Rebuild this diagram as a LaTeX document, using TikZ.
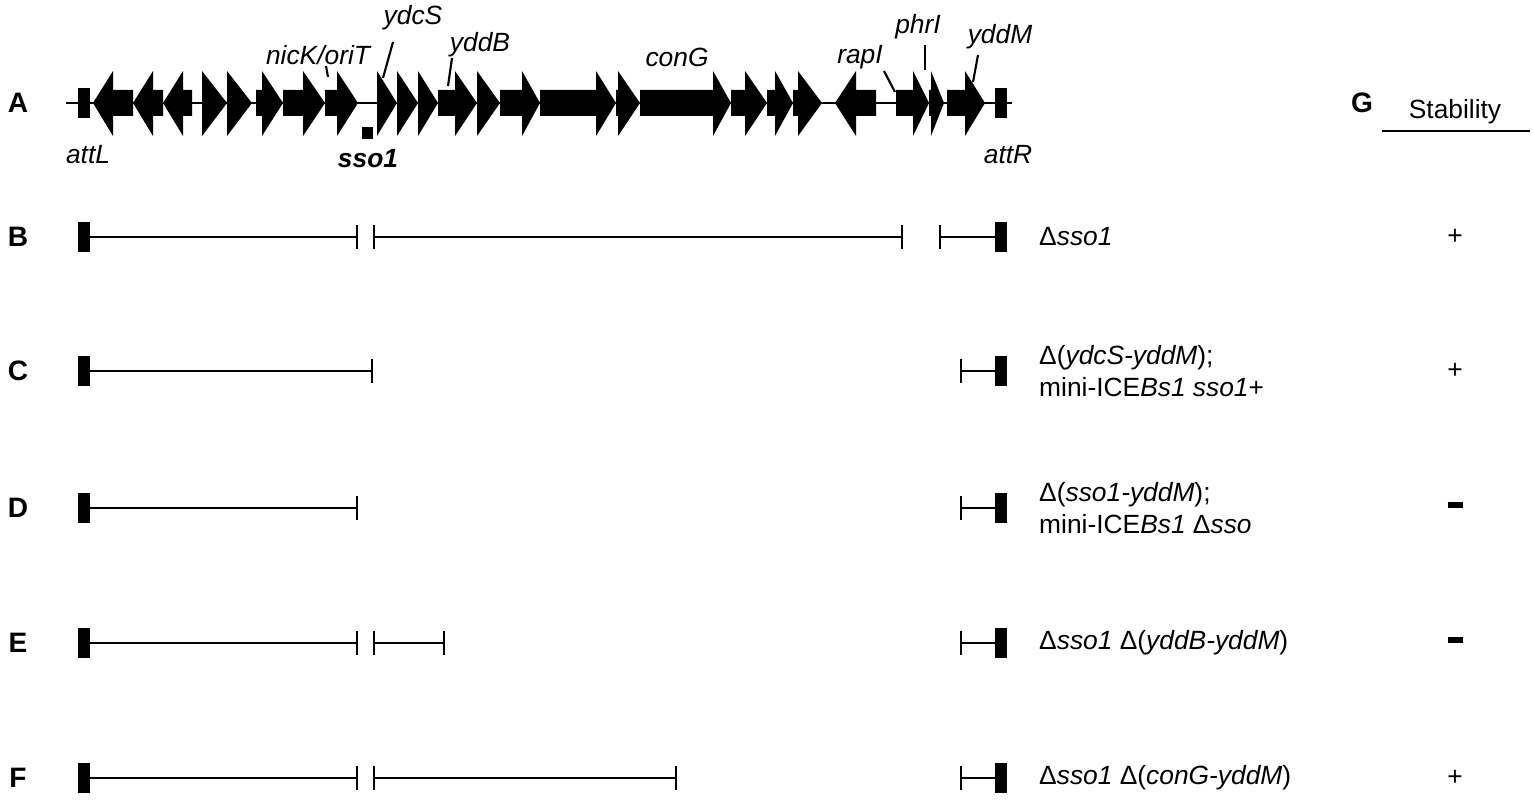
\documentclass[tikz,border=0pt]{standalone}
\usepackage{fontspec}
\setmainfont{Liberation Sans}
\usepackage{tikz}
\usetikzlibrary{arrows.meta,positioning}

\begin{document}
\begin{tikzpicture}[
    x=0.02cm, y=-0.02cm,
    % 字型
    every node/.style={font=\fontsize{15}{18}\selectfont},
    % 行標籤樣式
    lbl/.style={font=\fontsize{16}{18}\selectfont\bfseries},
    % 基因名稱樣式
    gname/.style={font=\fontsize{15}{18}\selectfont\itshape},
    % 刻線
    tick/.style={line width=1.2pt},
    % 區段樣式
    seg/.style={line width=0.9pt, {Bar[width=0.48cm]}-{Bar[width=0.48cm]}},
    % att 方塊
    att/.style={fill=black, draw=none}
]
\useasboundingbox (0,0) rectangle (1533,800);

% --- 基因圖 A ---
\draw[line width=1.2pt] (66,103) -- (1012,103);
\foreach \a/\b/\c in {133/113/93,163/153/133,192/183/163,202/202/227,227/227/252,
    256/262/283,283/303/325,325/337/358,377/377/397,397/397/418,418/418/438,
    438/455/477,477/477/500,500/522/540,540/596/616,616/618/640,640/713/731,
    731/745/767,767/775/793,793/798/822,876/856/835,896/913/929,929/931/944,947/965/985}
    \fill (\a,90) -- (\b,90) -- (\b,71) -- (\c,103) -- (\b,136) -- (\b,116) -- (\a,116) -- cycle;
\fill[att] (78,88) rectangle (90,118);
\fill[att] (995,88) rectangle (1007,118);
\fill (362,127) rectangle (373,139);

\node[lbl] (lA) at (18,103) {A};
\node[gname] (attL) at (88,155) {attL};
\node[gname] (attR) at (1008,155) {attR};
\node[font=\fontsize{15}{18}\selectfont\bfseries\itshape] (sso) at (368,159) {sso1};
\node[gname] (nick) at (318,55) {nicK/oriT};
\node[gname] (ydcs) at (413,18) {ydcS};
\node[gname] (yddb) at (480,45) {yddB};
\node[gname] (cong) at (677,57) {conG};
\node[gname] (rapi) at (860,57) {rapI};
\node[gname] (phri) at (918,27) {phrI};
\node[gname] (yddm) at (1000,37) {yddM};
\draw[tick] (326,66) -- (328,77);
\draw[tick] (393,42) -- (383,78);
\draw[tick] (452,58) -- (448,86);
\draw[tick] (884,71) -- (895,92);
\draw[tick] (925,45) -- (925,70);
\draw[tick] (978,55) -- (973,82);

% --- G 欄 ---
\node[lbl] (lG) at (1362,103) {G};
\node (stab) at (1455,112) {Stability};
\draw[line width=1pt] (1382,131) -- (1530,131);

% --- 缺失構築 B-F ---
\foreach \l/\y/\segs/\txt/\st in {
    B/237/{84/358,373/903,939/1000}/{Δ\textit{sso1}}/+,
    C/371/{84/373,960/1000}/{Δ(\textit{ydcS-yddM});\\mini-ICE\textit{Bs1 sso1}+}/+,
    D/508/{84/358,960/1000}/{Δ(\textit{sso1-yddM});\\mini-ICE\textit{Bs1} Δ\textit{sso}}/{\rule[0.5ex]{0.3cm}{0.12cm}},
    E/643/{84/358,373/445,960/1000}/{Δ\textit{sso1} Δ(\textit{yddB-yddM})}/{\rule[0.5ex]{0.3cm}{0.12cm}},
    F/778/{84/358,373/677,960/1000}/{Δ\textit{sso1} Δ(\textit{conG-yddM})}/+}{
    \node[lbl] (l\l) at (18,\y) {\l};
    \foreach \p/\q in \segs
        \draw[seg] (\p,\y) -- (\q,\y);
    \fill[att] (78,\y-15) rectangle (90,\y+15);
    \fill[att] (995,\y-15) rectangle (1007,\y+15);
    \node[anchor=west, align=left] (t\l) at (1033,\y) {\txt};
    \node (s\l) at (1455,\y) {\st};
}
\end{tikzpicture}
\end{document}
